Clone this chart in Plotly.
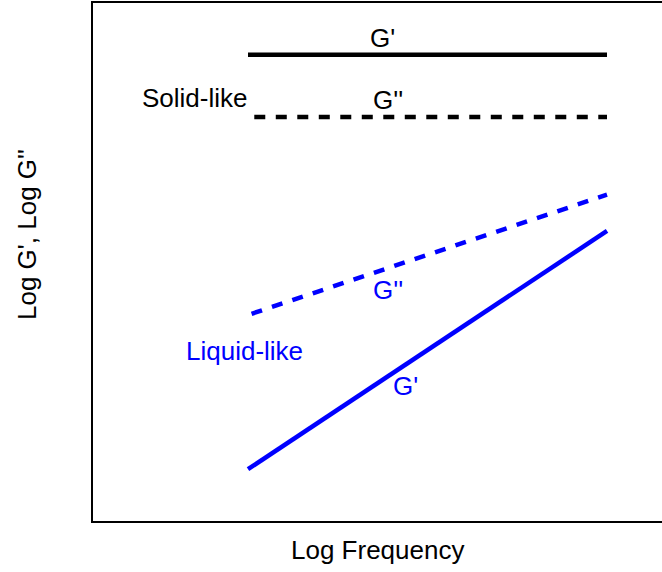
import plotly.graph_objects as go

# Log frequency span of every curve (decades)
freq = [0.0, 2.0]
freq_dashed_black = [0.035, 2.0]
freq_dashed_blue = [0.02, 2.0]

# Solid-like response: moduli flat in frequency
solid_g1 = [9.0, 9.0]
solid_g2 = [7.8, 7.8]

# Liquid-like response: moduli rising with frequency
liquid_g1 = [1.0, 5.6]
liquid_g2 = [4.0, 6.3]

BLUE = "#0000FF"
BLACK = "#000000"
FONT = "Liberation Sans, Arial, sans-serif"
DASH = "11px,10.5px"
SIZE = 26
LW = 4.5

fig = go.Figure()
fig.add_trace(go.Scatter(x=freq, y=solid_g1, mode="lines",
                         line=dict(color=BLACK, width=LW)))
fig.add_trace(go.Scatter(x=freq_dashed_black, y=solid_g2, mode="lines",
                         line=dict(color=BLACK, width=LW, dash=DASH)))
fig.add_trace(go.Scatter(x=freq_dashed_blue, y=liquid_g2, mode="lines",
                         line=dict(color=BLUE, width=LW, dash=DASH)))
fig.add_trace(go.Scatter(x=freq, y=liquid_g1, mode="lines",
                         line=dict(color=BLUE, width=LW)))

labels = [
    ("G'", 0.747, 9.33, BLACK),
    ("G''", 0.78, 8.13, BLACK),
    ("Solid-like", -0.295, 8.17, BLACK),
    ("G''", 0.78, 4.46, BLUE),
    ("Liquid-like", -0.02, 3.28, BLUE),
    ("G'", 0.88, 2.61, BLUE),
]
for text, x, y, color in labels:
    fig.add_annotation(x=x, y=y, text=text, showarrow=False,
                       xanchor="center", yanchor="middle",
                       font=dict(family=FONT, size=SIZE, color=color))

fig.add_annotation(x=0.5, y=-0.056, xref="paper", yref="paper",
                   text="Log Frequency", showarrow=False,
                   xanchor="center", yanchor="middle",
                   font=dict(family=FONT, size=SIZE, color=BLACK))
fig.add_annotation(x=-0.116, y=0.554, xref="paper", yref="paper",
                   text="Log G', Log G''", showarrow=False, textangle=-90,
                   xanchor="center", yanchor="middle",
                   font=dict(family=FONT, size=SIZE, color=BLACK))

fig.update_layout(
    width=662, height=572,
    margin=dict(l=93, r=0, t=3, b=51),
    paper_bgcolor="white", plot_bgcolor="white",
    showlegend=False,
    xaxis=dict(range=[-0.8635, 2.3064], showgrid=False, zeroline=False,
               showticklabels=False, ticks="", showline=True, mirror=True,
               linecolor=BLACK, linewidth=2),
    yaxis=dict(range=[0, 10], showgrid=False, zeroline=False,
               showticklabels=False, ticks="", showline=True, mirror=False,
               linecolor=BLACK, linewidth=2),
)

fig.write_html("out.html")
